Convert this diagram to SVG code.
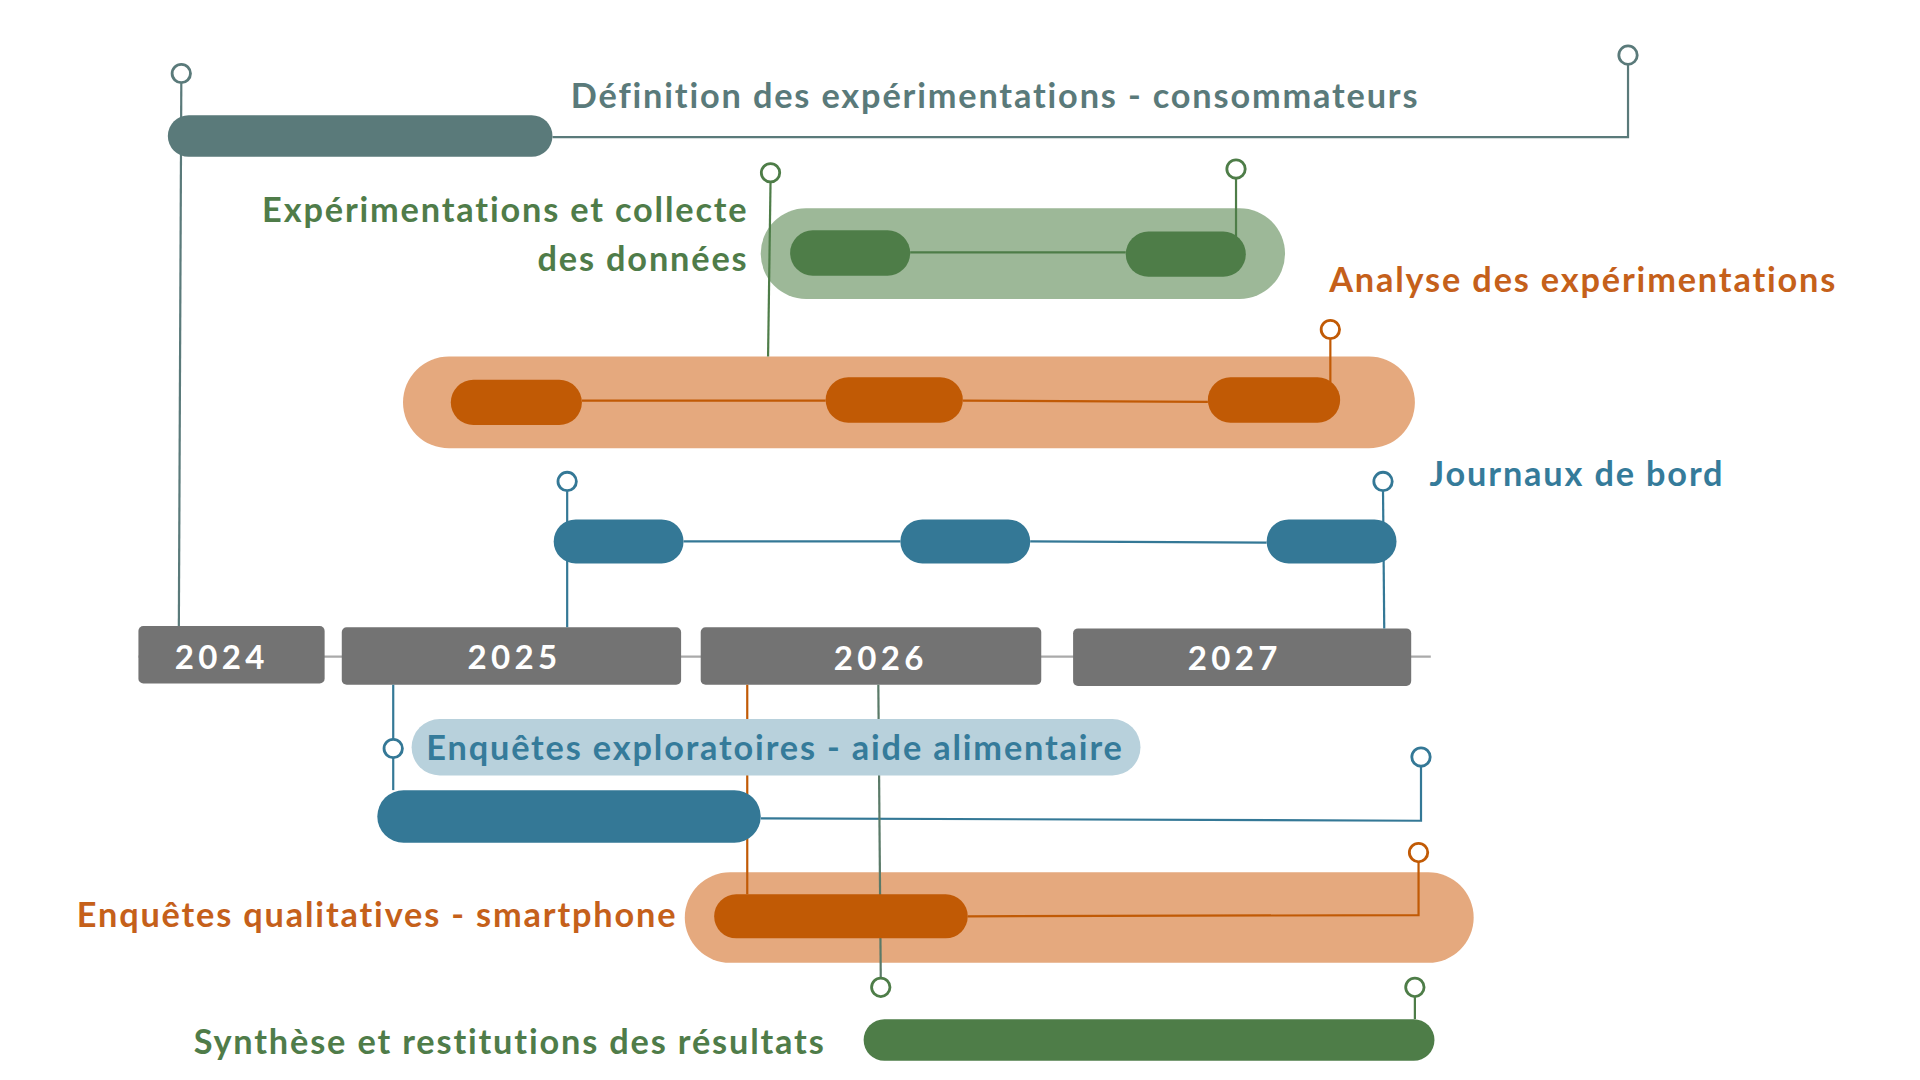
<svg xmlns="http://www.w3.org/2000/svg" width="1920" height="1080" viewBox="0 0 1920 1080">
<style>
text{font-family:Lato,"Open Sans","Liberation Sans",sans-serif;font-weight:700;font-size:28px;letter-spacing:1.5px}
.slate{fill:#5a7a7a}.sl{stroke:#5a7a7a}
.gL{fill:#9db898}.gD{fill:#4e7d48}.gl{stroke:#4e7d48}
.oL{fill:#e5a97e}.oD{fill:#c15a05}.ol{stroke:#c15a05}
.bD{fill:#347896}.bL{fill:#b8d1dc}.bl{stroke:#347896}
.yr{fill:#737373}
.yt{fill:#ffffff;font-size:27px;letter-spacing:3.5px;text-anchor:middle}
.ln{fill:none;stroke-width:1.8}
.pin{fill:#ffffff;stroke-width:2.3}
.tg{fill:#4f7c49}.to{fill:#c5601a}.tb{fill:#357b9a}.ts{fill:#5a7a7a}
</style>
<rect width="1920" height="1080" fill="#ffffff"/>
<g transform="scale(1.225)">
<g id="axis">
<line x1="113" y1="536" x2="1168" y2="536" stroke="#aaaaaa" stroke-width="2"/>
<g id="y2024"><rect class="yr" x="113" y="511" width="152" height="47" rx="4"/><text class="yt" x="181" y="546">2024</text></g>
<g id="y2025"><rect class="yr" x="279" y="512" width="277" height="47" rx="4"/><text class="yt" x="420" y="546">2025</text></g>
<g id="y2026"><rect class="yr" x="572" y="512" width="278" height="47" rx="4"/><text class="yt" x="719" y="547">2026</text></g>
<g id="y2027"><rect class="yr" x="876" y="513" width="276" height="47" rx="4"/><text class="yt" x="1008" y="547">2027</text></g>
</g>
<g id="experimentations-band">
<rect class="gL" x="621" y="170" width="428" height="74" rx="37"/>
</g>
<g id="analyse-band">
<rect class="oL" x="329" y="291" width="826" height="75" rx="37.5"/>
</g>
<g id="qualitatives-band">
<rect class="oL" x="559" y="712" width="644" height="74" rx="37"/>
</g>
<g id="connectors">
<path class="ln sl" d="M148,68 L146,511"/>
<path class="ln sl" d="M451,112 H1329 V53"/>
<path class="ln gl" d="M629,149 L627,291"/>
<path class="ln gl" d="M743,206 H919"/>
<path class="ln gl" d="M1009,146 V196"/>
<path class="ln ol" d="M475,327 H674"/>
<path class="ln ol" d="M786,327 L986,328"/>
<path class="ln ol" d="M1086,277 V312"/>
<path class="ln bl" d="M558,442 H735"/>
<path class="ln bl" d="M841,442 L1034,443"/>
<path class="ln bl" d="M463,401 V512"/>
<path class="ln bl" d="M1129,401 L1130,513"/>
<path class="ln bl" d="M321,559 V645"/>
<path class="ln bl" d="M621,668 L1160,670 V626"/>
<path class="ln ol" d="M610,559 V730" stroke-width="1.3"/>
<path class="ln ol" d="M790,748 L1158,747 V704"/>
<path class="ln" d="M717,559 L719,799" stroke="#5a7a68" stroke-width="1.5"/>
<path class="ln gl" d="M1155,814 V832"/>
<circle class="pin sl" cx="148" cy="60" r="7.5"/>
<circle class="pin sl" cx="1329" cy="45" r="7.5"/>
<circle class="pin gl" cx="629" cy="141" r="7.5"/>
<circle class="pin gl" cx="1009" cy="138" r="7.5"/>
<circle class="pin ol" cx="1086" cy="269" r="7.5"/>
<circle class="pin bl" cx="463" cy="393" r="7.5"/>
<circle class="pin bl" cx="1129" cy="393" r="7.5"/>
<circle class="pin bl" cx="321" cy="611" r="7.5"/>
<circle class="pin bl" cx="1160" cy="618" r="7.5"/>
<circle class="pin ol" cx="1158" cy="696" r="7.5"/>
<circle class="pin gl" cx="719" cy="806" r="7.5"/>
<circle class="pin gl" cx="1155" cy="806" r="7.5"/>
</g>
<g id="definition">
<rect class="slate" x="137" y="94" width="314" height="34" rx="17"/>
<text class="ts" x="466" y="88">Définition des expérimentations - consommateurs</text>
</g>
<g id="experimentations">
<rect class="gD" x="645" y="188" width="98" height="37" rx="18.5"/>
<rect class="gD" x="919" y="189" width="98" height="37" rx="18.5"/>
<text class="tg" x="611" y="181" text-anchor="end">Expérimentations et collecte</text>
<text class="tg" x="611" y="221" text-anchor="end">des données</text>
</g>
<g id="analyse">
<rect class="oD" x="368" y="310" width="107" height="37" rx="18.5"/>
<rect class="oD" x="674" y="308" width="112" height="37" rx="18.5"/>
<rect class="oD" x="986" y="308" width="108" height="37" rx="18.5"/>
<text class="to" x="1085" y="238">Analyse des expérimentations</text>
</g>
<g id="journaux">
<rect class="bD" x="452" y="424" width="106" height="36" rx="18"/>
<rect class="bD" x="735" y="424" width="106" height="36" rx="18"/>
<rect class="bD" x="1034" y="424" width="106" height="36" rx="18"/>
<text class="tb" x="1167" y="397">Journaux de bord</text>
</g>
<g id="exploratoires">
<rect class="bL" x="336" y="587" width="595" height="46" rx="23"/>
<text class="tb" x="348" y="620">Enquêtes exploratoires - aide alimentaire</text>
<rect class="bD" x="308" y="645" width="313" height="43" rx="21.5"/>
</g>
<g id="qualitatives">
<rect class="oD" x="583" y="730" width="207" height="36" rx="18"/>
<text class="to" x="553" y="757" text-anchor="end">Enquêtes qualitatives - smartphone</text>
</g>
<g id="synthese">
<rect class="gD" x="705" y="832" width="466" height="34" rx="17"/>
<text class="tg" x="674" y="860" text-anchor="end">Synthèse et restitutions des résultats</text>
</g>
</g>
</svg>
